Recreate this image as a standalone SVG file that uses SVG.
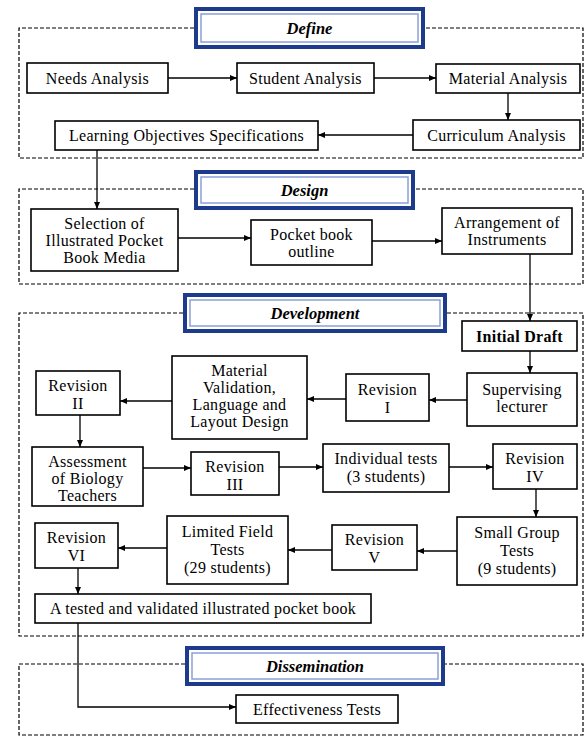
<svg xmlns="http://www.w3.org/2000/svg" width="584" height="737" viewBox="0 0 584 737">
<defs>
<marker id="ah" markerUnits="userSpaceOnUse" markerWidth="8" markerHeight="6" refX="7" refY="3" orient="auto">
<path d="M0,0 L7,3 L0,6 z" fill="#000"/>
</marker>
<style>
.bx{fill:#fff;stroke:#000;stroke-width:1.6}
.t{font-size:16px;letter-spacing:0.3px;fill:#000;text-anchor:middle;dominant-baseline:central}
.b{font-weight:bold}
.ti{font-size:16.5px;font-weight:bold;font-style:italic;fill:#000;text-anchor:middle;dominant-baseline:central}
.o{fill:#fff;stroke:#1e3a8c;stroke-width:4}
.i{fill:none;stroke:#8aa0d8;stroke-width:1.5}
.d{fill:none;stroke:#000;stroke-width:1.2;stroke-dasharray:4 2}
.c{fill:none;stroke:#000;stroke-width:1.3}
</style>
</defs>
<rect width="584" height="737" fill="#fff"/>

<g id="sections">
<path class="d" d="M194,28 H19 V158 H583 V28 H425"/>
<path class="d" d="M194,189 H19 V284 H583 V189 H415"/>
<path class="d" d="M183,313 H19 V636 H583 V313 H447"/>
<path class="d" d="M185,664 H19 V735 H583 V664 H445"/>
</g>

<g font-family="Liberation Serif, Times New Roman, serif">
<g id="title-define"><rect class="o" x="196" y="9" width="227" height="38"/><rect class="i" x="201" y="14" width="217" height="28"/><text class="ti" x="309.5" y="28">Define</text></g>
<g id="title-design"><rect class="o" x="196" y="172" width="217" height="36"/><rect class="i" x="201" y="177" width="207" height="26"/><text class="ti" x="304.5" y="190">Design</text></g>
<g id="title-development"><rect class="o" x="185" y="295" width="260" height="36"/><rect class="i" x="190" y="300" width="250" height="26"/><text class="ti" x="315" y="313">Development</text></g>
<g id="title-dissemination"><rect class="o" x="187" y="648" width="256" height="36"/><rect class="i" x="192" y="653" width="246" height="26"/><text class="ti" x="315" y="666">Dissemination</text></g>

<g id="connectors">
<path class="c" marker-end="url(#ah)" d="M168,78 H237"/>
<path class="c" marker-end="url(#ah)" d="M374,78 H436"/>
<path class="c" marker-end="url(#ah)" d="M508,93 V120"/>
<path class="c" marker-end="url(#ah)" d="M413,135 H318"/>
<path class="c" marker-end="url(#ah)" d="M97,150 V209"/>
<path class="c" marker-end="url(#ah)" d="M178,238 H251"/>
<path class="c" marker-end="url(#ah)" d="M372,241 H442"/>
<path class="c" marker-end="url(#ah)" d="M530,254 V321"/>
<path class="c" marker-end="url(#ah)" d="M530,351 V373"/>
<path class="c" marker-end="url(#ah)" d="M467,400 H429"/>
<path class="c" marker-end="url(#ah)" d="M346,399 H307"/>
<path class="c" marker-end="url(#ah)" d="M172,401 H120"/>
<path class="c" marker-end="url(#ah)" d="M80,415 V447"/>
<path class="c" marker-end="url(#ah)" d="M143,468 H191"/>
<path class="c" marker-end="url(#ah)" d="M279,467 H323"/>
<path class="c" marker-end="url(#ah)" d="M449,467 H493"/>
<path class="c" marker-end="url(#ah)" d="M536,489 V517"/>
<path class="c" marker-end="url(#ah)" d="M457,551 H417"/>
<path class="c" marker-end="url(#ah)" d="M332,550 H288"/>
<path class="c" marker-end="url(#ah)" d="M167,548 H118"/>
<path class="c" marker-end="url(#ah)" d="M78,568 V594"/>
<path class="c" marker-end="url(#ah)" d="M78,623 V707 H236"/>
</g>

<g id="needs"><rect class="bx" x="27" y="63" width="141" height="30"/><text class="t" x="97.5" y="78">Needs Analysis</text></g>
<g id="student"><rect class="bx" x="237" y="63" width="137" height="30"/><text class="t" x="305.5" y="78">Student Analysis</text></g>
<g id="material"><rect class="bx" x="436" y="64" width="144" height="29"/><text class="t" x="508" y="78.5">Material Analysis</text></g>
<g id="curriculum"><rect class="bx" x="413" y="120" width="167" height="30"/><text class="t" x="496.5" y="135">Curriculum Analysis</text></g>
<g id="objectives"><rect class="bx" x="55" y="121" width="263" height="29"/><text class="t" x="186.5" y="135.5">Learning Objectives Specifications</text></g>

<g id="selection"><rect class="bx" x="31" y="209" width="147" height="62"/><text class="t" x="104.5" y="223">Selection of</text><text class="t" x="104.5" y="240">Illustrated Pocket</text><text class="t" x="104.5" y="257">Book Media</text></g>
<g id="outline"><rect class="bx" x="251" y="220" width="121" height="45"/><text class="t" x="311.5" y="234">Pocket book</text><text class="t" x="311.5" y="251">outline</text></g>
<g id="arrangement"><rect class="bx" x="442" y="208" width="130" height="46"/><text class="t" x="507" y="222">Arrangement of</text><text class="t" x="507" y="239">Instruments</text></g>

<g id="initial"><rect class="bx" x="462" y="321" width="115" height="30"/><text class="t b" x="519.5" y="336">Initial Draft</text></g>
<g id="supervising"><rect class="bx" x="467" y="373" width="110" height="53"/><text class="t" x="522" y="389">Supervising</text><text class="t" x="522" y="406">lecturer</text></g>
<g id="rev1"><rect class="bx" x="346" y="374" width="83" height="47"/><text class="t" x="387.5" y="389">Revision</text><text class="t" x="387.5" y="407">I</text></g>
<g id="matval"><rect class="bx" x="172" y="356" width="135" height="83"/><text class="t" x="239.5" y="370">Material</text><text class="t" x="239.5" y="387">Validation,</text><text class="t" x="239.5" y="404">Language and</text><text class="t" x="239.5" y="421">Layout Design</text></g>
<g id="rev2"><rect class="bx" x="36" y="371" width="84" height="44"/><text class="t" x="78" y="385">Revision</text><text class="t" x="78" y="403">II</text></g>
<g id="assessment"><rect class="bx" x="32" y="447" width="111" height="59"/><text class="t" x="87.5" y="461">Assessment</text><text class="t" x="87.5" y="478">of Biology</text><text class="t" x="87.5" y="495">Teachers</text></g>
<g id="rev3"><rect class="bx" x="191" y="452" width="88" height="43"/><text class="t" x="235" y="466">Revision</text><text class="t" x="235" y="484">III</text></g>
<g id="individual"><rect class="bx" x="323" y="444" width="126" height="48"/><text class="t" x="386" y="458">Individual tests</text><text class="t" x="386" y="476">(3 students)</text></g>
<g id="rev4"><rect class="bx" x="493" y="444" width="84" height="45"/><text class="t" x="535" y="458">Revision</text><text class="t" x="535" y="476">IV</text></g>
<g id="smallgroup"><rect class="bx" x="457" y="517" width="120" height="68"/><text class="t" x="517" y="532">Small Group</text><text class="t" x="517" y="550">Tests</text><text class="t" x="517" y="568">(9 students)</text></g>
<g id="rev5"><rect class="bx" x="332" y="525" width="85" height="45"/><text class="t" x="374.5" y="539">Revision</text><text class="t" x="374.5" y="557">V</text></g>
<g id="limited"><rect class="bx" x="167" y="516" width="121" height="68"/><text class="t" x="227.5" y="531">Limited Field</text><text class="t" x="227.5" y="549">Tests</text><text class="t" x="227.5" y="567">(29 students)</text></g>
<g id="rev6"><rect class="bx" x="35" y="523" width="83" height="45"/><text class="t" x="76.5" y="537">Revision</text><text class="t" x="76.5" y="555">VI</text></g>
<g id="pocketbook"><rect class="bx" x="35" y="594" width="336" height="29"/><text class="t" x="203" y="608.5">A tested and validated illustrated pocket book</text></g>

<g id="effectiveness"><rect class="bx" x="236" y="695" width="162" height="28"/><text class="t" x="317" y="709">Effectiveness Tests</text></g>
</g>
</svg>
